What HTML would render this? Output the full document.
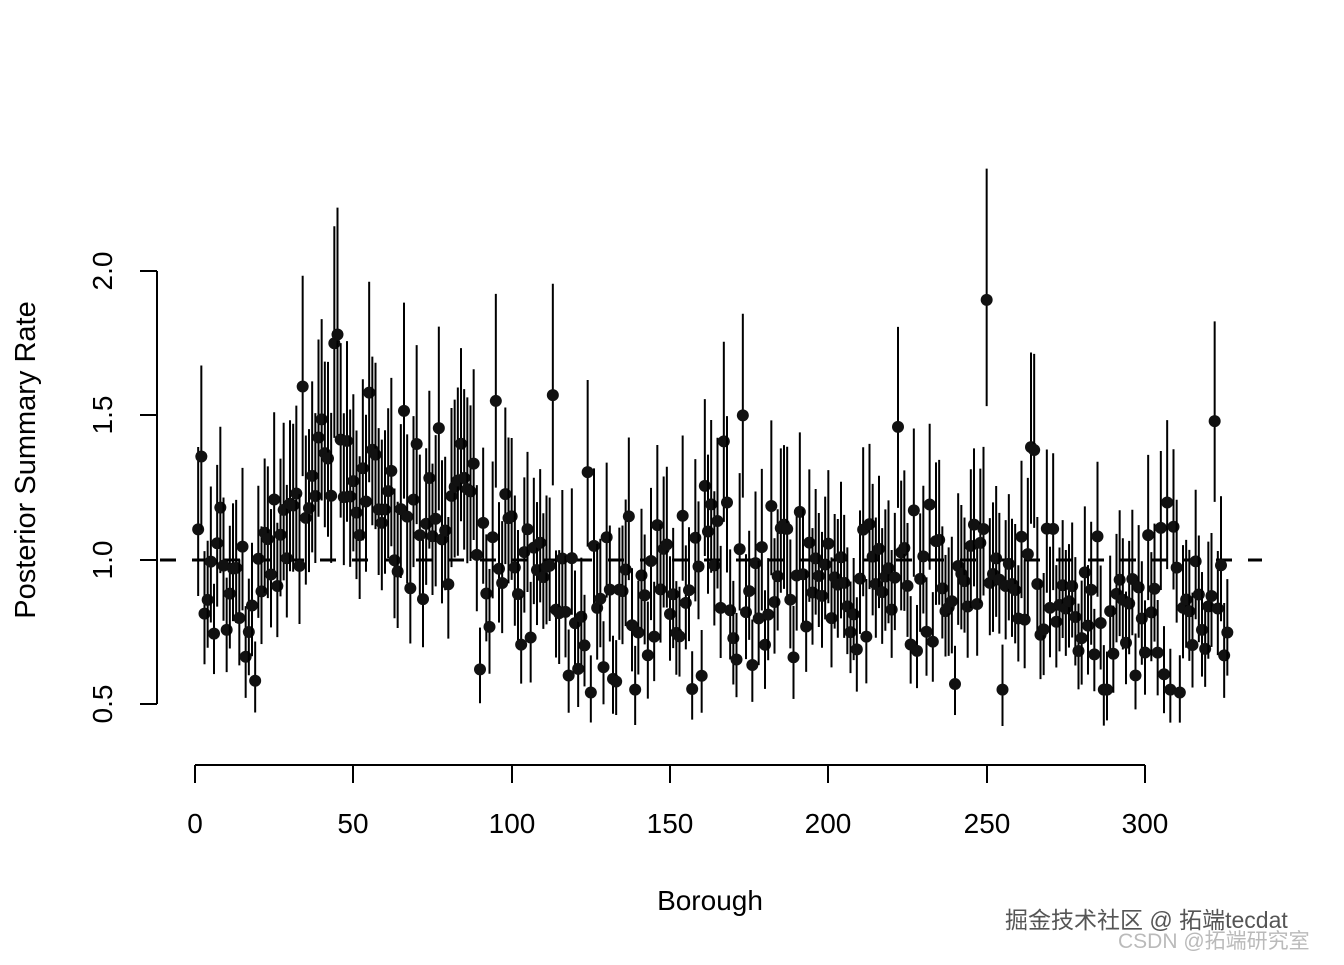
<!DOCTYPE html>
<html><head><meta charset="utf-8"><style>
html,body{margin:0;padding:0;background:#fff;}
svg text{font-family:"Liberation Sans","Noto Sans CJK SC",sans-serif;}
</style></head><body>
<svg id="s" width="1344" height="960" xmlns="http://www.w3.org/2000/svg">
<line x1="157" y1="271" x2="157" y2="704" stroke="#000" stroke-width="2"/>
<g stroke="#000" stroke-width="2">
<line x1="140" y1="271" x2="157" y2="271"/><line x1="140" y1="415" x2="157" y2="415"/>
<line x1="140" y1="560" x2="157" y2="560"/><line x1="140" y1="704" x2="157" y2="704"/>
<line x1="195" y1="765" x2="1145" y2="765"/>
<line x1="195" y1="765" x2="195" y2="783"/><line x1="353" y1="765" x2="353" y2="783"/>
<line x1="512" y1="765" x2="512" y2="783"/><line x1="670" y1="765" x2="670" y2="783"/>
<line x1="828" y1="765" x2="828" y2="783"/><line x1="987" y1="765" x2="987" y2="783"/>
<line x1="1145" y1="765" x2="1145" y2="783"/>
</g>
<g font-size="28" text-anchor="middle" fill="#000">
<text transform="translate(112,271) rotate(-90)">2.0</text>
<text transform="translate(112,415) rotate(-90)">1.5</text>
<text transform="translate(112,560) rotate(-90)">1.0</text>
<text transform="translate(112,704) rotate(-90)">0.5</text>
<text x="195" y="833">0</text><text x="353" y="833">50</text><text x="512" y="833">100</text>
<text x="670" y="833">150</text><text x="828" y="833">200</text><text x="987" y="833">250</text>
<text x="1145" y="833">300</text>
<text x="710" y="910">Borough</text>
<text transform="translate(35,460) rotate(-90)" font-size="29">Posterior Summary Rate</text>
</g>
<line x1="160" y1="560" x2="1262" y2="560" stroke="#000" stroke-width="3" stroke-dasharray="16,16"/>
<g id="pts"></g>
<text x="1005" y="928" font-size="23" fill="#555">掘金技术社区 @ 拓端tecdat</text>
<text x="1118" y="948" font-size="21" fill="#aaa" opacity="0.8">CSDN @拓端研究室</text>
</svg>
<script>
var seed=12345;function r(){seed=(seed*16807)%2147483647;return (seed-1)/2147483646;}
function g(){return Math.sqrt(-2*Math.log(r()+1e-9))*Math.cos(2*Math.PI*r());}
function mean(i){if(i<25)return 0.92;if(i<30)return 1.05;if(i<50)return 1.3;if(i<70)return 1.22;if(i<90)return 1.15;if(i<110)return 0.98;if(i<125)return 0.92;return 0.88;}
var fixed={44:1.75,45:1.78,250:1.9,322:1.48,113:1.57,95:1.55,173:1.5,222:1.46,264:1.39,265:1.38,90:0.62,125:0.54,311:0.54,167:1.41};
var h='';
for(var i=1;i<=326;i++){var v=fixed[i]||Math.max(0.55,Math.min(1.6,mean(i)+0.17*g()));
var hw=v*0.22+0.03*r();var x=195+i*950/300;
function Y(t){return 559.7-(t-1)*288.67;}
h+='<line x1="'+x+'" x2="'+x+'" y1="'+Y(v+hw*1.05)+'" y2="'+Y(v-hw*0.85)+'" stroke="#000" stroke-width="2"/>';
h+='<circle cx="'+x+'" cy="'+Y(v)+'" r="6" fill="#111"/>';}
document.getElementById('pts').innerHTML=h;
</script>
</body></html>
